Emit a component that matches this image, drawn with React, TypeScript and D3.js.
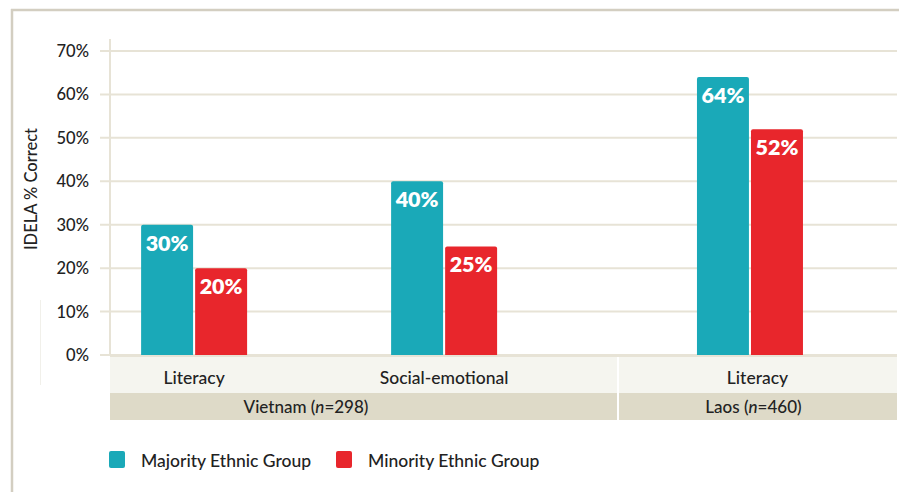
import React from "react";
import * as d3 from "d3";

const countries = ["Vietnam", "Laos"];
const countrySizes = [298, 460];
const categories = ["Literacy", "Social-emotional", "Literacy"];
const categoryCountry = ["Vietnam", "Vietnam", "Laos"];
const series = ["Majority Ethnic Group", "Minority Ethnic Group"];
const majority = [30, 40, 64];
const minority = [20, 25, 52];
const yTicks = [0, 10, 20, 30, 40, 50, 60, 70];

const W = 899;
const H = 492;
const colors = ["#1aa9b8", "#e8262c"];
const gridColor = "#e7e3d6";
const font = "Lato, 'Open Sans', sans-serif";

export default function App() {
  const plotLeft = 110;
  const plotRight = 897;
  const sectionSplit = 618;
  const y = d3.scaleLinear().domain([0, 70]).range([355, 51]);

  const sectionRange: Record<string, [number, number]> = {
    Vietnam: [plotLeft, sectionSplit],
    Laos: [sectionSplit, plotRight],
  };
  const vnIdx = categoryCountry.map((c, i) => (c === "Vietnam" ? i : -1)).filter((i) => i >= 0).map(String);
  const laIdx = categoryCountry.map((c, i) => (c === "Laos" ? i : -1)).filter((i) => i >= 0).map(String);
  const xVN = d3.scalePoint<string>().domain(vnIdx).range(sectionRange.Vietnam).padding(0.516).align(0.326);
  const xLA = d3.scalePoint<string>().domain(laIdx).range(sectionRange.Laos).padding(0.5).align(0.473);
  const xCenter = (i: number) =>
    categoryCountry[i] === "Vietnam" ? (xVN(String(i)) as number) : (xLA(String(i)) as number);
  const inner = d3.scaleBand<string>().domain(series).range([-53, 53]).paddingInner(0.038);

  const values = [majority, minority];
  const baseline = y(0);

  return (
    <svg
      width={W}
      height={H}
      style={{ position: "absolute", left: 0, top: 0, background: "#fff" }}
      fontFamily={font}
    >
      {/* frame */}
      <line x1={12} x2={12} y1={9} y2={H} stroke="#d3cec1" strokeWidth={2.5} />
      <line x1={11} x2={W} y1={10} y2={10} stroke="#d3cec1" strokeWidth={2.5} />
      <line x1={40.5} x2={40.5} y1={300} y2={385} stroke="#f1f0ea" strokeWidth={1} />

      {/* gridlines */}
      {yTicks.map((t) => (
        <g key={t}>
          <line x1={100} x2={plotRight} y1={y(t)} y2={y(t)} stroke={gridColor} strokeWidth={2} />
          <text
            x={89}
            y={y(t) + 6}
            textAnchor="end"
            fontSize={16.5}
            fontWeight={500}
            fill="#222"
          >
            {t}%
          </text>
        </g>
      ))}
      <line x1={plotLeft} x2={plotLeft} y1={39} y2={baseline} stroke={gridColor} strokeWidth={2} />

      {/* y title */}
      <text
        transform={`translate(37,189) rotate(-90)`}
        textAnchor="middle"
        fontSize={16.5}
        fontWeight={500}
        fill="#222"
      >
        IDELA % Correct
      </text>

      {/* bars */}
      {categories.map((cat, i) => (
        <g key={i}>
          {series.map((s, si) => {
            const v = values[si][i];
            const x0 = xCenter(i) + (inner(s) as number);
            const bw = inner.bandwidth();
            const top = y(v);
            return (
              <g key={s}>
                <path
                  d={`M${x0},${baseline} V${top + 2} Q${x0},${top} ${x0 + 2},${top} H${x0 + bw - 2} Q${x0 + bw},${top} ${x0 + bw},${top + 2} V${baseline} Z`}
                  fill={colors[si]}
                />
                <text
                  x={x0 + bw / 2}
                  y={top + 26}
                  textAnchor="middle"
                  fontSize={21.5}
                  fontWeight={800}
                  fill="#fff"
                >
                  {v}%
                </text>
              </g>
            );
          })}
        </g>
      ))}

      {/* category band */}
      <rect x={plotLeft} y={356} width={plotRight - plotLeft} height={37} fill="#f5f5ef" />
      <rect x={plotLeft} y={393} width={plotRight - plotLeft} height={27} fill="#dedac8" />
      <line x1={sectionSplit} x2={sectionSplit} y1={356} y2={420} stroke="#fff" strokeWidth={2} />
      <line x1={plotLeft} x2={plotRight} y1={356} y2={356} stroke={gridColor} strokeWidth={2} />

      {categories.map((cat, i) => {
        const [a, b] = sectionRange[categoryCountry[i]];
        const cx = categoryCountry[i] === "Laos" ? (a + b) / 2 : xCenter(i);
        return (
          <text key={i} x={cx} y={384} textAnchor="middle" fontSize={17.5} fontWeight={500} fill="#222">
            {cat}
          </text>
        );
      })}

      {countries.map((c, ci) => {
        const [a, b] = sectionRange[c];
        const cx = c === "Vietnam" ? (a + b) / 2 - 58 : (a + b) / 2 - 4;
        return (
          <text key={c} x={cx} y={413} textAnchor="middle" fontSize={17} fontWeight={500} fill="#222">
            {c} (<tspan fontStyle="italic">n</tspan>={countrySizes[ci]})
          </text>
        );
      })}

      {/* legend */}
      {series.map((s, si) => {
        const lx = si === 0 ? 109 : 336;
        return (
          <g key={s}>
            <rect x={lx} y={451} width={16} height={17} rx={2} fill={colors[si]} />
            <text x={lx + 32} y={467} fontSize={17.5} fontWeight={500} fill="#222">
              {s}
            </text>
          </g>
        );
      })}
    </svg>
  );
}
